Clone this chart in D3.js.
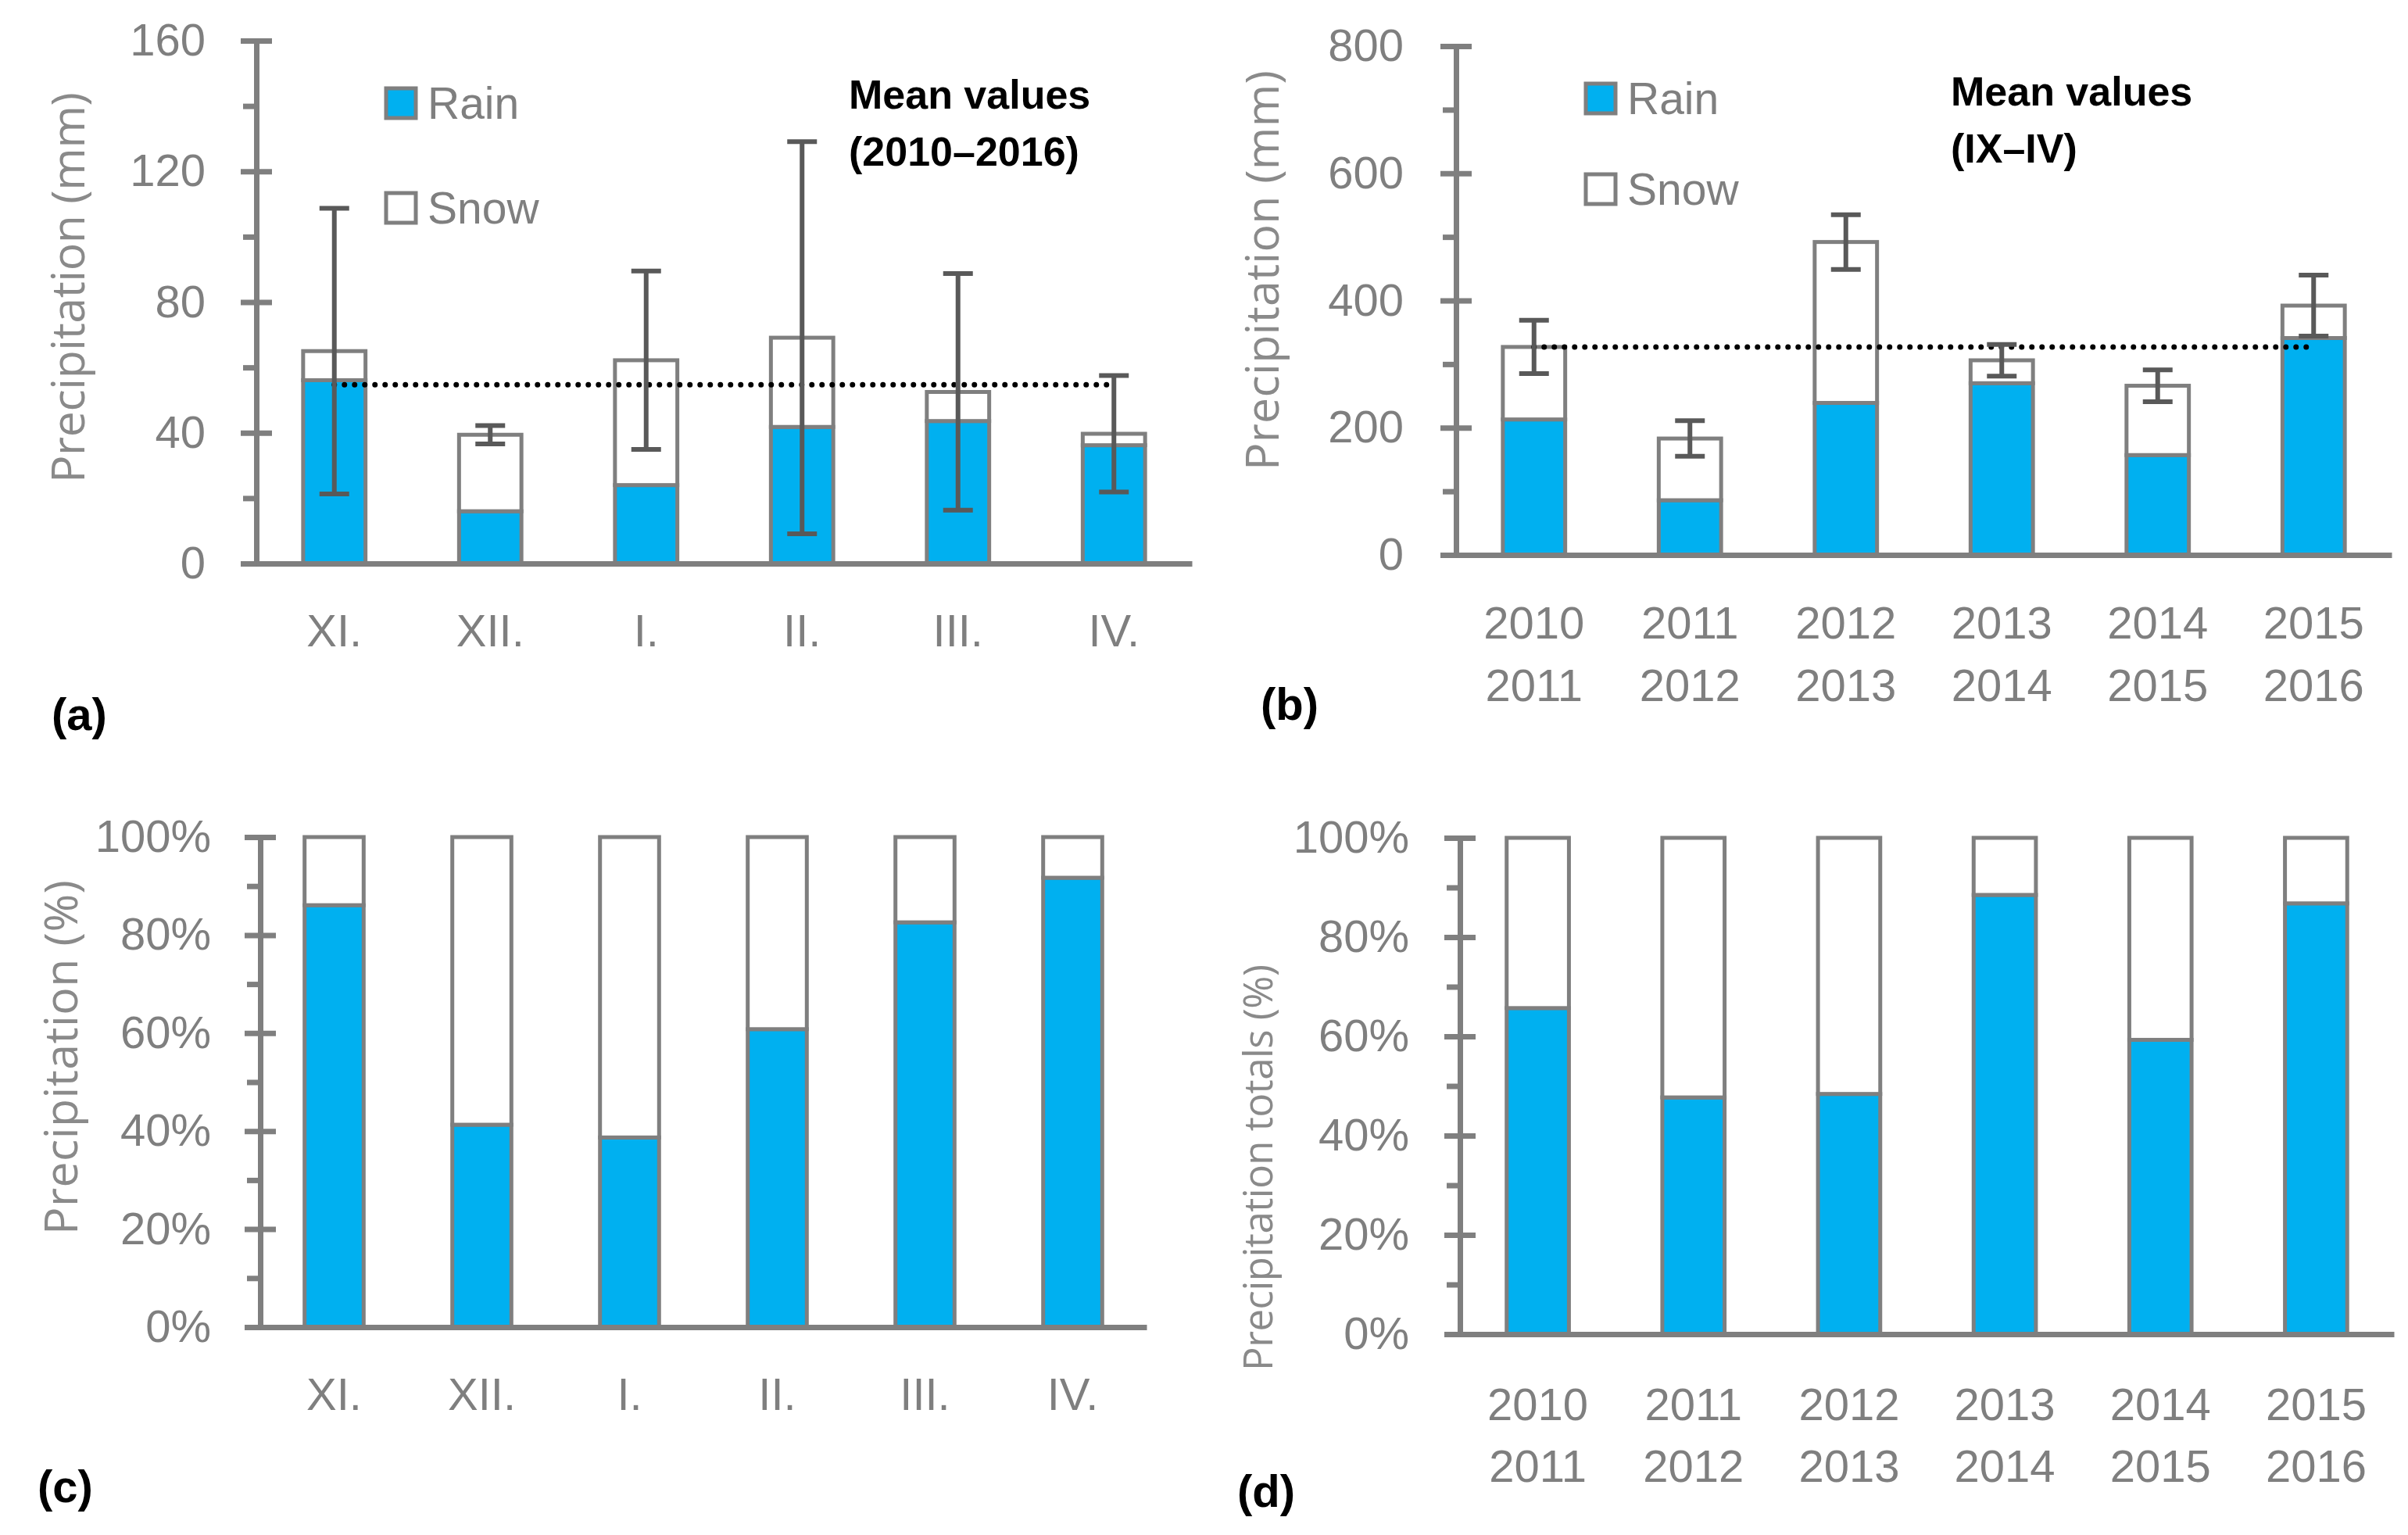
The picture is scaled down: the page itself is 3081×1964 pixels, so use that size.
<!DOCTYPE html>
<html>
<head>
<meta charset="utf-8">
<script src="https://cdn.jsdelivr.net/npm/d3@7"></script>
<style>
  body { margin: 0; background: #fff; }
  svg { display: block; }
</style>
</head>
<body>
<svg id="chart" width="3081" height="1964"></svg>
<script>
// monthly means 2010-2016 (mm)
const months = ["XI.", "XII.", "I.", "II.", "III.", "IV."];
const monthRain = [56.1, 16.0, 24.0, 41.8, 43.6, 36.2];
const monthSnow = [8.9, 23.4, 38.2, 27.3, 8.9, 3.5];
const monthSd = [43.7, 2.8, 27.3, 60.0, 36.2, 17.8];
const monthMean = 54.7;

// seasonal totals IX-IV (mm)
const seasons = [["2010", "2011"], ["2011", "2012"], ["2012", "2013"], ["2013", "2014"], ["2014", "2015"], ["2015", "2016"]];
const seasonRain = [213, 86, 239, 270, 157, 341];
const seasonSnow = [114, 97, 253, 36, 109, 51];
const seasonSd = [42, 28, 43, 25, 25, 48];
const seasonMean = 327;

// rain share (%)
const monthRainPct = [86.1, 41.3, 38.7, 60.8, 82.6, 91.7];
const seasonRainPct = [65.7, 47.7, 48.4, 88.5, 59.3, 86.8];

const mmTicks = [0, 40, 80, 120, 160];
const mmMinor = [20, 60, 100, 140];
const seasonTicks = [0, 200, 400, 600, 800];
const seasonMinor = [100, 300, 500, 700];
const pctTicks = [0, 20, 40, 60, 80, 100];
const pctMinor = [10, 30, 50, 70, 90];

const BLUE = "#00b0f0";
const GREY = "#7f7f7f";
const DARK = "#595959";
const NUM_FONT = "'Liberation Sans', Arial, sans-serif";
const TITLE_FONT = "'Open Sans', 'DejaVu Sans', sans-serif";

const svg = d3.select("#chart");

function drawPanel(cfg) {
  const g = svg.append("g");
  const keys = cfg.cats.map((c, i) => i);
  const x = d3.scaleBand().domain(keys).range([cfg.x0, cfg.x1]).paddingInner(0.6).paddingOuter(0.3);
  const y = d3.scaleLinear().domain([0, cfg.max]).range([cfg.y0, cfg.y1]);

  const rows = keys.map(i => ({ i: i, rain: cfg.rain[i], snow: cfg.snow[i] }));
  const stacked = d3.stack().keys(["rain", "snow"])(rows);

  // bars
  g.selectAll("g.layer")
    .data(stacked)
    .enter()
    .append("g")
    .attr("class", "layer")
    .attr("fill", d => d.key === "rain" ? BLUE : "#fff")
    .selectAll("rect")
    .data(d => d)
    .enter()
    .append("rect")
    .attr("x", d => x(d.data.i))
    .attr("width", x.bandwidth())
    .attr("y", d => y(d[1]))
    .attr("height", d => y(d[0]) - y(d[1]))
    .attr("stroke", GREY)
    .attr("stroke-width", 5);

  // y axis, major ticks cross the line, minor ticks outside
  const ya = g.append("g")
    .attr("transform", `translate(${cfg.x0},0)`)
    .call(d3.axisLeft(y).tickValues(cfg.ticks).tickSize(20).tickSizeOuter(0).tickPadding(cfg.pad)
      .tickFormat(cfg.fmt));
  ya.selectAll(".tick line").attr("x1", 20);
  ya.selectAll("line, path").attr("stroke", GREY).attr("stroke-width", 7);
  ya.selectAll("text").attr("fill", GREY).style("font-family", NUM_FONT).style("font-size", "58px");

  const ym = g.append("g")
    .attr("transform", `translate(${cfg.x0},0)`)
    .call(d3.axisLeft(y).tickValues(cfg.minor).tickSize(17).tickFormat(""));
  ym.select(".domain").remove();
  ym.selectAll("line").attr("stroke", GREY).attr("stroke-width", 7);

  // x axis
  const xa = g.append("g")
    .attr("transform", `translate(0,${cfg.y0})`)
    .call(d3.axisBottom(x).tickSize(0).tickSizeOuter(0).tickFormat(""));
  xa.select(".domain").attr("stroke", GREY).attr("stroke-width", 7);
  xa.selectAll(".tick").each(function (d) {
    const lab = cfg.cats[d];
    const lines = Array.isArray(lab) ? lab : [lab];
    const t = d3.select(this).append("text")
      .attr("fill", GREY)
      .attr("text-anchor", "middle")
      .style("font-family", NUM_FONT)
      .style("font-size", "58px");
    lines.forEach((s, k) => {
      t.append("tspan").attr("x", 0).attr("y", cfg.labY[k]).attr("dy", "0.35em").text(s);
    });
  });

  // axis title
  g.append("text")
    .attr("transform", `translate(${cfg.titleX},${cfg.titleY}) rotate(-90)`)
    .attr("text-anchor", "middle")
    .attr("dy", "0.35em")
    .attr("fill", "#8a8a8a")
    .attr("textLength", cfg.titleLen)
    .attr("lengthAdjust", "spacing")
    .style("font-family", TITLE_FONT)
    .style("font-size", cfg.titleSize + "px")
    .text(cfg.title);

  // error bars and mean line
  if (cfg.sd) {
    g.append("line")
      .attr("x1", x(0) + x.bandwidth() / 2)
      .attr("x2", x(keys.length - 1) + x.bandwidth() / 2)
      .attr("y1", y(cfg.mean))
      .attr("y2", y(cfg.mean))
      .attr("stroke", "#000")
      .attr("stroke-width", 7)
      .attr("stroke-linecap", "round")
      .attr("stroke-dasharray", "0 13");
    const cap = 19;
    rows.forEach(r => {
      const tot = r.rain + r.snow;
      const cx = x(r.i) + x.bandwidth() / 2;
      const hi = y(tot + cfg.sd[r.i]);
      const lo = y(tot - cfg.sd[r.i]);
      g.append("path")
        .attr("d", `M${cx},${hi}V${lo}M${cx - cap},${hi}H${cx + cap}M${cx - cap},${lo}H${cx + cap}`)
        .attr("stroke", DARK)
        .attr("stroke-width", 6)
        .attr("fill", "none");
    });
  }

  // legend
  if (cfg.legend) {
    const L = cfg.legend;
    [["Rain", BLUE, L.y[0]], ["Snow", "#fff", L.y[1]]].forEach(([name, col, ly]) => {
      g.append("rect")
        .attr("x", L.x).attr("y", ly - 19)
        .attr("width", 38).attr("height", 38)
        .attr("fill", col).attr("stroke", GREY).attr("stroke-width", 5);
      g.append("text")
        .attr("x", L.x + 53).attr("y", ly).attr("dy", "0.35em")
        .attr("fill", GREY)
        .style("font-family", NUM_FONT).style("font-size", "57px")
        .text(name);
    });
    L.note.forEach((s, k) => {
      g.append("text")
        .attr("x", L.noteX).attr("y", L.noteY[k]).attr("dy", "0.35em")
        .attr("fill", "#000")
        .style("font-family", NUM_FONT).style("font-size", "52px").style("font-weight", "bold")
        .text(s);
    });
  }

  // panel letter
  g.append("text")
    .attr("x", cfg.tag[0]).attr("y", cfg.tag[1]).attr("dy", "0.35em")
    .attr("fill", "#000")
    .style("font-family", NUM_FONT).style("font-size", "58px").style("font-weight", "bold")
    .text(cfg.tagText);
}

const pctFmt = d => d + "%";

drawPanel({
  cats: months, rain: monthRain, snow: monthSnow, sd: monthSd, mean: monthMean,
  max: 160, ticks: mmTicks, minor: mmMinor, fmt: d3.format("d"), pad: 45,
  x0: 328, x1: 1525, y0: 721, y1: 52, labY: [86],
  title: "Precipitation (mm)", titleX: 87, titleY: 368, titleLen: 500, titleSize: 59,
  legend: { x: 494, y: [132, 266], noteX: 1086, noteY: [121, 194], note: ["Mean values", "(2010\u20132016)"] },
  tag: [66, 914], tagText: "(a)"
});

drawPanel({
  cats: seasons, rain: seasonRain, snow: seasonSnow, sd: seasonSd, mean: seasonMean,
  max: 800, ticks: seasonTicks, minor: seasonMinor, fmt: d3.format("d"), pad: 47,
  x0: 1863, x1: 3060, y0: 710, y1: 59, labY: [87, 167],
  title: "Precipitation (mm)", titleX: 1615, titleY: 346, titleLen: 512, titleSize: 59,
  legend: { x: 2029, y: [126, 242], noteX: 2496, noteY: [117, 190], note: ["Mean values", "(IX\u2013IV)"] },
  tag: [1613, 901], tagText: "(b)"
});

drawPanel({
  cats: months, rain: monthRainPct, snow: monthRainPct.map(v => 100 - v),
  max: 100, ticks: pctTicks, minor: pctMinor, fmt: pctFmt, pad: 43,
  x0: 333, x1: 1467, y0: 1698, y1: 1071, labY: [86],
  title: "Precipitation (%)", titleX: 78, titleY: 1353, titleLen: 454, titleSize: 59,
  tag: [48, 1902], tagText: "(c)"
});

drawPanel({
  cats: seasons, rain: seasonRainPct, snow: seasonRainPct.map(v => 100 - v),
  max: 100, ticks: pctTicks, minor: pctMinor, fmt: pctFmt, pad: 45,
  x0: 1868, x1: 3063, y0: 1707, y1: 1072, labY: [90, 169],
  title: "Precipitation totals (%)", titleX: 1610, titleY: 1494, titleLen: 520, titleSize: 51,
  tag: [1583, 1908], tagText: "(d)"
});
</script>
</body>
</html>
